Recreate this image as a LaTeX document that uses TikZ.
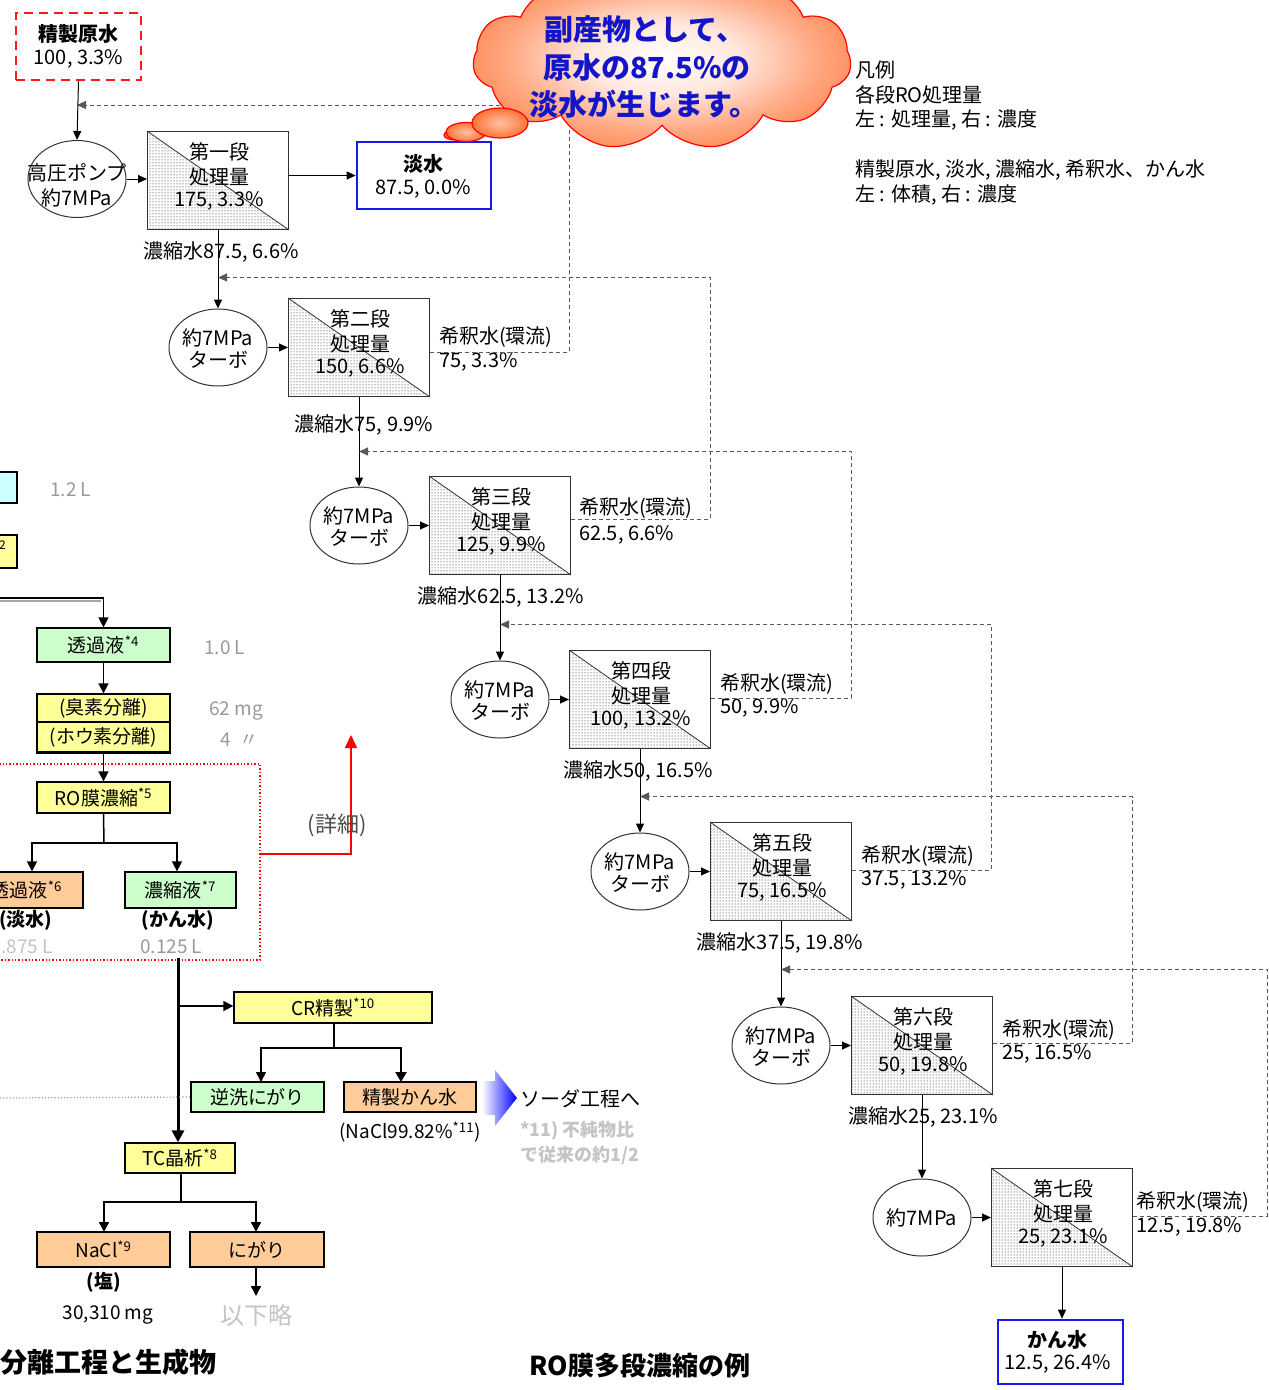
\documentclass[tikz,border=0pt]{standalone}
\usepackage{fontspec}
\setmainfont{Noto Sans CJK JP}
\usetikzlibrary{arrows.meta,patterns,shapes.symbols,shapes.geometric,calc}
\definecolor{ylw}{HTML}{FFFF99}
\definecolor{grn}{HTML}{CCFFCC}
\definecolor{org}{HTML}{FFCC99}
\definecolor{cyn}{HTML}{CCFFFF}
\definecolor{cloudout}{HTML}{FF6420}
\definecolor{cloudtxt}{HTML}{1414C8}
\definecolor{bluebox}{HTML}{1A1AE6}
\definecolor{gtxt}{HTML}{9A9A9A}
\definecolor{ltxt}{HTML}{C4C4C4}
\pgfdeclareradialshading{cloudsh}{\pgfpoint{0bp}{0bp}}{%
  color(0bp)=(white); color(10bp)=(white!85!cloudout); color(20bp)=(cloudout!55);
  color(30bp)=(cloudout!85); color(38bp)=(cloudout); color(50bp)=(cloudout)}
\newcommand{\fsz}[1]{\fontsize{#1}{#1}\selectfont}
\tikzset{
  txt/.style={inner sep=0, font=\fsz{20}},
  btxt/.style={inner sep=0, font=\fsz{20}\bfseries},
  stagebox/.style={draw=black!80, line width=1pt, minimum width=141, minimum height=98, inner sep=0},
  pump/.style={ellipse, draw=black!80, line width=1pt, minimum width=98, minimum height=77, inner sep=0},
  arr/.style={line width=1pt, -{Triangle[length=9pt,width=8pt]}},
  recirc/.style={draw=black!65, line width=1pt, dash pattern=on 4pt off 3pt, -{Triangle[length=9pt,width=8pt]}},
  fbx/.style={draw=black, line width=1.3pt, inner sep=0, font=\fsz{19}},
  ltx/.style={inner sep=0, font=\fsz{19}},
  larr/.style={line width=1.5pt, -{Triangle[length=10pt,width=10pt]}},
}
\newcommand{\ROstage}[5]{%
  \path[pattern=dots, pattern color=black] (#2,#3) -- (#2,#3+98) -- (#2+141,#3+98) -- cycle;
  \node[stagebox, anchor=north west] (b#1) at (#2,#3) {};
  \draw[black!80, line width=0.8pt] (b#1.north west) -- (b#1.south east);
  \node[txt] at ($(b#1.north)+(1,21)$) {#4};
  \node[txt] at ($(b#1.north)+(1,46)$) {処理量};
  \node[txt] at ($(b#1.north)+(1,70)$) {#5};
}
\begin{document}
\begin{tikzpicture}[x=1pt,y=-1pt]
\useasboundingbox (0,0) rectangle (1269,1390);
\fill[white] (0,0) rectangle (1269,1390);

% ---------------- RO stages ----------------
\ROstage{1}{147}{131}{第一段}{175, 3.3\%}
\ROstage{2}{288}{298}{第二段}{150, 6.6\%}
\ROstage{3}{429}{476}{第三段}{125, 9.9\%}
\ROstage{4}{569}{650}{第四段}{100, 13.2\%}
\ROstage{5}{710}{822}{第五段}{75, 16.5\%}
\ROstage{6}{851}{996}{第六段}{50, 19.8\%}
\ROstage{7}{991}{1168}{第七段}{25, 23.1\%}

% pumps
\node[pump] (e1) at (77,179) {};
\node[pump] (e2) at (b1.south |- b2.west) {};
\node[pump] (e3) at (b2.south |- b3.west) {};
\node[pump] (e4) at (b3.south |- b4.west) {};
\node[pump] (e5) at (b4.south |- b5.west) {};
\node[pump] (e6) at (b5.south |- b6.west) {};
\node[pump] (e7) at (b6.south |- b7.west) {};

\node[txt] at ($(e1)+(0,-6)$) {高圧ポンプ};
\node[txt] at ($(e1)+(0,19)$) {約7MPa};
\foreach \k in {2,...,6}{
  \node[txt] at ($(e\k)+(0,-10)$) {約7MPa};
  \node[txt] at ($(e\k)+(0,12)$) {ターボ};
}
\node[txt] at (e7) {約7MPa};

\foreach \k in {1,...,7}{
  \draw[arr] (e\k.east) -- (e\k.east -| b\k.west);
}
\draw[arr] (b1.south) -- (e2.north);
\draw[arr] (b2.south) -- (e3.north);
\draw[arr] (b3.south) -- (e4.north);
\draw[arr] (b4.south) -- (e5.north);
\draw[arr] (b5.south) -- (e6.north);
\draw[arr] (b6.south) -- (e7.north);

% concentrate labels
\node[txt] at ($(b1.south)+(3,22)$) {濃縮水87.5, 6.6\%};
\node[txt] at ($(b2.south)+(5,28)$) {濃縮水75, 9.9\%};
\node[txt] at ($(b3.south)+(1,22)$) {濃縮水62.5, 13.2\%};
\node[txt] at ($(b4.south)+(-2,22)$) {濃縮水50, 16.5\%};
\node[txt] at ($(b5.south)+(-1,22)$) {濃縮水37.5, 19.8\%};
\node[txt] at ($(b6.south)+(1,22)$) {濃縮水25, 23.1\%};

% dilution labels
\node[txt, anchor=west] at ($(b2.north east)+(9,39)$) {希釈水(環流)};
\node[txt, anchor=west] at ($(b2.north east)+(9,64)$) {75, 3.3\%};
\node[txt, anchor=west] at ($(b3.north east)+(8,32)$) {希釈水(環流)};
\node[txt, anchor=west] at ($(b3.north east)+(8,59)$) {62.5, 6.6\%};
\node[txt, anchor=west] at ($(b4.north east)+(9,34)$) {希釈水(環流)};
\node[txt, anchor=west] at ($(b4.north east)+(9,58)$) {50, 9.9\%};
\node[txt, anchor=west] at ($(b5.north east)+(9,34)$) {希釈水(環流)};
\node[txt, anchor=west] at ($(b5.north east)+(9,58)$) {37.5, 13.2\%};
\node[txt, anchor=west] at ($(b6.north east)+(9,34)$) {希釈水(環流)};
\node[txt, anchor=west] at ($(b6.north east)+(9,58)$) {25, 16.5\%};
\node[txt, anchor=west] at ($(b7.north east)+(3,34)$) {希釈水(環流)};
\node[txt, anchor=west] at ($(b7.north east)+(3,59)$) {12.5, 19.8\%};

% recirculation (dashed)
\coordinate (t2) at ($(e1.north)+(0,-35)$);
\coordinate (t3) at ($(e2.north)+(0,-31)$);
\coordinate (t4) at ($(e3.north)+(0,-35)$);
\coordinate (t5) at ($(e4.north)+(0,-36)$);
\coordinate (t6) at ($(e5.north)+(0,-36)$);
\coordinate (t7) at ($(e6.north)+(0,-37)$);
\draw[recirc] ($(b2.north east)+(0,54)$) -- ++(139,0) |- (t2);
\draw[recirc] ($(b3.north east)+(0,43)$) -- ++(139,0) |- (t3);
\draw[recirc] ($(b4.north east)+(0,48)$) -- ++(140,0) |- (t4);
\draw[recirc] ($(b5.north east)+(0,48)$) -- ++(139,0) |- (t5);
\draw[recirc] ($(b6.north east)+(0,47)$) -- ++(139,0) |- (t6);
\draw[recirc] ($(b7.north east)+(0,48)$) -- ++(134,0) |- (t7);

% source, fresh water, brine
\node[draw=red!90, line width=2.6pt, dash pattern=on 9pt off 6pt, minimum width=125, minimum height=67, inner sep=0] (src) at (78.5,46.5) {};
\node[btxt] at ($(src)+(0,-13)$) {精製原水};
\node[txt] at ($(src)+(0,12)$) {100, 3.3\%};
\draw[arr] (src.south) -- (e1.north);

\node[draw=bluebox, line width=2.6pt, minimum width=134, minimum height=67, inner sep=0] (fw) at (424,175.5) {};
\node[btxt] at ($(fw)+(-1,-12)$) {淡水};
\node[txt] at ($(fw)+(-1,13)$) {87.5, 0.0\%};
\draw[arr] (b1.east |- fw.west) -- (fw.west);

\node[draw=bluebox, line width=2.6pt, minimum width=125, minimum height=64, inner sep=0] (kw) at (1060.5,1352) {};
\node[btxt] at ($(kw)+(-3,-12)$) {かん水};
\node[txt] at ($(kw)+(-3,12)$) {12.5, 26.4\%};
\draw[arr] (b7.south) -- (b7.south |- kw.north);

% cloud
\shade[draw=red, line width=1.2pt, inner color=cloudout!50, outer color=cloudout] (455,135) ellipse [x radius=11, y radius=5];
\shade[draw=red, line width=1.2pt, inner color=cloudout!40, outer color=cloudout!90] (466,132) ellipse [x radius=20, y radius=9.5];
\node[cloud, cloud puffs=11, cloud puff arc=110, aspect=2.3, minimum width=378, minimum height=180, draw=red, line width=1.2pt, shading=cloudsh] (cl) at (662,60) {};
\shade[draw=red, line width=1.2pt, inner color=cloudout!40, outer color=cloudout!90] (500,123) ellipse [x radius=28, y radius=15];
\node[inner sep=0, font=\fsz{29}\bfseries, text=cloudtxt] at (645,29) {副産物として、};
\node[inner sep=0, font=\fsz{29}\bfseries, text=cloudtxt] at (647,67) {原水の87.5\%の};
\node[inner sep=0, font=\fsz{29}\bfseries, text=cloudtxt] at (644,104) {淡水が生じます。};

% legend
\node[txt, anchor=west] at (855,70) {凡例};
\node[txt, anchor=west] at (855,95) {各段RO処理量};
\node[txt, anchor=west] at (855,120) {左 : 処理量, 右 : 濃度};
\node[txt, anchor=west] at (855,170) {精製原水, 淡水, 濃縮水, 希釈水、かん水};
\node[txt, anchor=west] at (855,195) {左 : 体積, 右 : 濃度};

% titles
\node[inner sep=0, font=\fsz{26}\bfseries] at (640,1366) {RO膜多段濃縮の例};
\node[inner sep=0, font=\fsz{27}\bfseries, anchor=west] at (0,1362) {分離工程と生成物};

% ---------------- left flow ----------------
\node[fbx, fill=cyn, minimum width=40, minimum height=31] (cy) at (-3,487.5) {};
\node[ltx, text=gtxt, anchor=west] at (50,490) {1.2 L};
\node[fbx, fill=ylw, minimum width=40, minimum height=33] (yl0) at (-3,551.5) {};
\node[inner sep=0, font=\fsz{12}, anchor=west] at (-1,545) {2};

\coordinate (lin) at (0,598);
\draw[black!35, line width=2pt] (0,601) -- (101,601);
\node[fbx, fill=grn, minimum width=133, minimum height=34] (tk) at (103.5,645) {透過液\textsuperscript{*4}};
\draw[larr] (lin) -| (tk.north);
\node[ltx, text=gtxt, anchor=west] at (204,648) {1.0 L};

\node[fbx, fill=ylw, minimum width=133, minimum height=28] (bs1) at (103.5,708) {(臭素分離)};
\node[fbx, fill=ylw, minimum width=133, minimum height=30] (bs2) at (103.5,737) {(ホウ素分離)};
\draw[line width=3pt] (bs2.south west) -- (bs2.south east);
\draw[larr] (tk.south) -- (bs1.north);
\node[ltx, text=gtxt, anchor=west] at (209,711) {62 mg};
\node[ltx, text=gtxt, anchor=west] at (220,740) {4 \ 〃};

\node[fbx, fill=ylw, minimum width=133, minimum height=31] (ro) at (103.5,797.5) {RO膜濃縮\textsuperscript{*5}};
\draw[larr] (bs2.south) -- (ro.north);

\draw[red, line width=1.4pt, dotted] (-10,764) rectangle (260,960);
\coordinate (rdA) at (260,854);
\coordinate (rdB) at (351,735);
\draw[red, line width=1.6pt, -{Triangle[length=13pt,width=12pt]}] (rdA) -| (rdB);
\node[inner sep=0, font=\fsz{22}, text=black!70] at (337,825) {(詳細)};

\coordinate (rj) at (104,843);
\node[fbx, fill=org, minimum width=113, minimum height=36] (tk6) at (26.5,890) {透過液\textsuperscript{*6}};
\node[fbx, fill=grn, minimum width=111, minimum height=36] (nk7) at (180.5,890) {濃縮液\textsuperscript{*7}};
\draw[line width=1.5pt] (ro.south) -- (rj);
\draw[larr] (rj) -| (tk6.north -| 32,0);
\draw[larr] (rj) -| (nk7.north -| 177,0);
\node[ltx, font=\fsz{19}\bfseries] at (26,920) {(淡水)};
\node[ltx, font=\fsz{19}\bfseries] at (178,920) {(かん水)};
\node[ltx, text=ltxt, anchor=east] at (53,947) {0.875 L};
\node[ltx, text=gtxt, anchor=west] at (140,947) {0.125 L};

% CR and TC
\node[fbx, fill=ylw, minimum width=198, minimum height=31] (cr) at (333,1007.5) {CR精製\textsuperscript{*10}};
\node[fbx, fill=ylw, minimum width=110, minimum height=30] (tc) at (180,1158) {TC晶析\textsuperscript{*8}};
\coordinate (kt) at (178,958);
\draw[line width=3pt, -{Triangle[length=12pt,width=12pt]}] (kt) -- (kt |- tc.north);
\coordinate (crj) at (178,1006);
\draw[larr] (crj) -- (cr.west |- crj);

\coordinate (cj) at (334,1048);
\node[fbx, fill=grn, minimum width=133, minimum height=30] (gn) at (257.5,1097) {逆洗にがり};
\node[fbx, fill=org, minimum width=132, minimum height=30] (sk) at (410,1097) {精製かん水};
\draw[line width=1.5pt] (cr.south -| cj) -- (cj);
\draw[larr] (cj) -| (261,1082);
\draw[line width=2.5pt, -{Triangle[length=10pt,width=11pt]}] (cj) -| (401,1082);
\draw[gtxt, line width=1.2pt, dotted] (0,1098) -- (gn.west);
\node[ltx] at (410,1132) {(NaCl99.82\%\textsuperscript{*11})};

\shade[left color=white, right color=blue] (482,1081) -- (495,1081) -- (495,1070) -- (517,1098) -- (495,1126) -- (495,1115) -- (482,1115) -- cycle;
\node[txt, anchor=west] at (520,1099) {ソーダ工程へ};
\node[ltx, text=ltxt, anchor=west, font=\fsz{18}\bfseries] at (520,1131) {*11) 不純物比};
\node[ltx, text=ltxt, anchor=west, font=\fsz{18}\bfseries] at (520,1155) {で従来の約1/2};

\coordinate (tj) at (181,1202);
\node[fbx, fill=org, minimum width=133, minimum height=35] (na) at (103.5,1249.5) {NaCl\textsuperscript{*9}};
\node[fbx, fill=org, minimum width=134, minimum height=35] (ng) at (257,1249.5) {にがり};
\draw[line width=1.5pt] (tc.south -| tj) -- (tj);
\draw[larr] (tj) -| (104,1232);
\draw[larr] (tj) -| (256,1232);
\node[ltx, font=\fsz{19}\bfseries] at (104,1282) {(塩)};
\node[ltx] at (108,1315) {30,310 mg};
\coordinate (ngd) at (256,1296);
\draw[larr] (ng.south -| ngd) -- (ngd);
\node[inner sep=0, font=\fsz{24}, text=ltxt] at (256,1315) {以下略};
\end{tikzpicture}
\end{document}
